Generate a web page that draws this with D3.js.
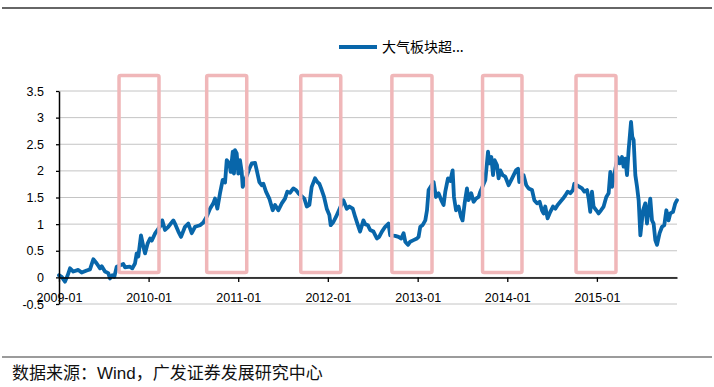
<!doctype html>
<html>
<head>
  <meta charset="utf-8" />
  <title>大气板块超额收益</title>
  <script src="https://d3js.org/d3.v7.min.js"></script>
  <style>
    html, body { margin: 0; padding: 0; background: #fff; }
    svg { display: block; }
    .tick text { font-family: "Liberation Sans", Arial, sans-serif; font-size: 12.5px; fill: #000; }
  </style>
</head>
<body>
  <svg id="chart"></svg>

  <script>
    // decimal years
    var years = [
      2009.000, 2009.030, 2009.067, 2009.097, 2009.123, 2009.160, 2009.215, 2009.253, 2009.309, 2009.346,
      2009.383, 2009.421, 2009.458, 2009.477, 2009.513, 2009.550, 2009.569, 2009.595, 2009.617, 2009.644,
      2009.718, 2009.737, 2009.792, 2009.818, 2009.848, 2009.867, 2009.885, 2009.915, 2009.941, 2009.960,
      2009.990, 2010.016, 2010.035, 2010.071, 2010.138, 2010.153, 2010.183, 2010.220, 2010.276, 2010.302,
      2010.332, 2010.362, 2010.406, 2010.443, 2010.481, 2010.518, 2010.574, 2010.611, 2010.648, 2010.685,
      2010.722, 2010.741, 2010.767, 2010.797, 2010.827, 2010.853, 2010.872, 2010.901, 2010.916, 2010.939,
      2010.953, 2010.964, 2010.983, 2011.001, 2011.020, 2011.039, 2011.050, 2011.124, 2011.151, 2011.188,
      2011.207, 2011.236, 2011.262, 2011.280, 2011.310, 2011.347, 2011.385, 2011.411, 2011.448, 2011.486,
      2011.522, 2011.548, 2011.578, 2011.615, 2011.645, 2011.671, 2011.738, 2011.765, 2011.794, 2011.820,
      2011.857, 2011.883, 2011.905, 2011.932, 2011.958, 2011.988, 2012.017, 2012.032, 2012.062, 2012.092,
      2012.173, 2012.211, 2012.240, 2012.278, 2012.304, 2012.329, 2012.359, 2012.396, 2012.415, 2012.445,
      2012.471, 2012.508, 2012.546, 2012.571, 2012.602, 2012.638, 2012.675, 2012.694, 2012.750, 2012.787,
      2012.817, 2012.843, 2012.862, 2012.892, 2012.917, 2012.954, 2012.992, 2013.010, 2013.029, 2013.055,
      2013.085, 2013.104, 2013.122, 2013.178, 2013.204, 2013.233, 2013.263, 2013.289, 2013.308, 2013.338,
      2013.364, 2013.390, 2013.405, 2013.428, 2013.457, 2013.483, 2013.501, 2013.524, 2013.550, 2013.568,
      2013.598, 2013.624, 2013.651, 2013.680, 2013.699, 2013.755, 2013.785, 2013.799, 2013.822, 2013.841,
      2013.858, 2013.885, 2013.903, 2013.922, 2013.948, 2013.978, 2014.015, 2014.045, 2014.071, 2014.097,
      2014.120, 2014.134, 2014.182, 2014.212, 2014.238, 2014.276, 2014.302, 2014.332, 2014.361, 2014.387,
      2014.405, 2014.424, 2014.450, 2014.480, 2014.510, 2014.536, 2014.562, 2014.592, 2014.622, 2014.648,
      2014.673, 2014.703, 2014.733, 2014.748, 2014.807, 2014.834, 2014.860, 2014.890, 2014.908, 2014.926,
      2014.945, 2014.963, 2014.994, 2015.019, 2015.046, 2015.075, 2015.105, 2015.131, 2015.150, 2015.169,
      2015.231, 2015.254, 2015.280, 2015.298, 2015.317, 2015.336, 2015.354, 2015.381, 2015.395, 2015.410,
      2015.429, 2015.448, 2015.466, 2015.485, 2015.515, 2015.540, 2015.559, 2015.577, 2015.596, 2015.615,
      2015.633, 2015.652, 2015.671, 2015.700, 2015.727, 2015.752, 2015.775, 2015.800, 2015.819, 2015.849,
      2015.875, 2015.894
    ];

    var values = [
      0.04, 0.01, -0.08, 0.04, 0.17, 0.11, 0.14, 0.09, 0.13, 0.15,
      0.34, 0.26, 0.17, 0.21, 0.11, 0.08, -0.02, 0.04, 0.01, 0.20,
      0.25, 0.19, 0.20, 0.17, 0.26, 0.45, 0.39, 0.79, 0.58, 0.45,
      0.64, 0.73, 0.69, 0.82, 0.98, 1.07, 0.89, 0.95, 1.07, 0.98,
      0.86, 0.76, 0.95, 1.01, 0.83, 0.95, 0.98, 1.03, 1.14, 1.29,
      1.39, 1.48, 1.29, 1.58, 1.83, 1.78, 2.20, 2.14, 1.98, 2.36,
      1.95, 2.39, 2.33, 1.95, 2.20, 1.98, 1.70, 2.04, 2.14, 2.15,
      2.01, 1.79, 1.73, 1.76, 1.61, 1.48, 1.26, 1.36, 1.26, 1.39,
      1.48, 1.61, 1.59, 1.67, 1.64, 1.58, 1.48, 1.33, 1.36, 1.70,
      1.86, 1.79, 1.76, 1.64, 1.51, 1.29, 1.17, 0.98, 1.04, 1.14,
      1.45, 1.29, 1.33, 1.29, 1.14, 1.01, 0.86, 1.07, 1.00, 0.98,
      0.89, 0.86, 0.73, 0.76, 0.86, 0.95, 1.01, 0.79, 0.78, 0.76,
      0.73, 0.83, 0.67, 0.61, 0.67, 0.70, 0.73, 0.76, 0.95, 0.98,
      1.07, 1.26, 1.64, 1.79, 1.51, 1.58, 1.45, 1.36, 1.61, 1.86,
      1.81, 2.01, 1.51, 1.26, 1.33, 1.14, 1.07, 1.39, 1.67, 1.45,
      1.58, 1.42, 1.48, 1.51, 1.61, 1.83, 2.36, 2.14, 2.26, 1.92,
      2.20, 2.11, 1.86, 2.01, 1.92, 1.89, 1.73, 1.83, 1.92, 2.01,
      2.04, 1.79, 1.92, 1.73, 1.67, 1.64, 1.45, 1.39, 1.42, 1.26,
      1.20, 1.33, 1.11, 1.23, 1.33, 1.29, 1.36, 1.42, 1.48, 1.54,
      1.61, 1.58, 1.64, 1.76, 1.70, 1.67, 1.61, 1.64, 1.48, 1.23,
      1.61, 1.33, 1.26, 1.20, 1.26, 1.33, 1.51, 1.58, 1.98, 1.70,
      2.26, 2.14, 2.26, 2.08, 2.23, 1.92, 2.39, 2.92, 2.64, 2.58,
      1.92, 1.70, 1.45, 0.79, 1.26, 1.39, 1.01, 1.26, 1.48, 1.07,
      1.01, 0.70, 0.61, 0.83, 0.95, 0.98, 1.26, 1.07, 1.20, 1.23,
      1.39, 1.45
    ];

    // highlighted windows (start, end in decimal years)
    var windowStarts = [2009.670, 2010.648, 2011.698, 2012.713, 2013.724, 2014.767];
    var windowEnds = [2010.116, 2011.095, 2012.144, 2013.160, 2014.164, 2015.213];
    var windowTop = 3.79, windowBottom = 0.09;

    var yTicks = [-0.5, 0, 0.5, 1, 1.5, 2, 2.5, 3, 3.5];
    var seriesName = "大气板块超...";
    var sourceText = "数据来源：Wind，广发证券发展研究中心";

    var width = 714, height = 387;
    var margin = { left: 59, right: 37, top: 91, bottom: 83 };

    function toDate(t) {
      var y = Math.floor(t),
        s = new Date(y, 0, 1),
        e = new Date(y + 1, 0, 1);
      return new Date(+s + (t - y) * (e - s));
    }

    var data = years.map(function(t, i) {
      return { date: toDate(t), value: values[i] };
    });

    var svg = d3.select("#chart").attr("width", width).attr("height", height);

    var x = d3.scaleTime()
      .domain([toDate(2009.0), toDate(2015.894)])
      .range([margin.left, width - margin.right]);

    var y = d3.scaleLinear()
      .domain([-0.5, 3.5])
      .range([height - margin.bottom, margin.top]);

    // top and bottom rules of the report page
    svg.append("line")
      .attr("x1", 2).attr("x2", 712).attr("y1", 8).attr("y2", 8)
      .style("stroke", "#333").style("stroke-width", 1.6);

    svg.append("line")
      .attr("x1", 2).attr("x2", 712).attr("y1", 357).attr("y2", 357)
      .style("stroke", "#7a7a7a").style("stroke-width", 1.6);

    svg.append("text")
      .attr("x", 12).attr("y", 379)
      .style("font-family", "'Liberation Sans', 'Noto Sans CJK SC', sans-serif")
      .style("font-size", "17px")
      .style("fill", "#111")
      .text(sourceText);

    // gridlines
    svg.append("g")
      .selectAll("line")
      .data(yTicks)
      .enter()
      .append("line")
      .attr("x1", margin.left)
      .attr("x2", width - margin.right)
      .attr("y1", function(d) { return y(d); })
      .attr("y2", function(d) { return y(d); })
      .style("stroke", "#c4c4c4")
      .style("stroke-width", 1);

    // series
    var line = d3.line()
      .x(function(d) { return x(d.date); })
      .y(function(d) { return y(d.value); });

    svg.append("path")
      .datum(data)
      .attr("d", line)
      .style("fill", "none")
      .style("stroke", "#0866aa")
      .style("stroke-width", 3.8)
      .style("stroke-linejoin", "round")
      .style("stroke-linecap", "round");

    // highlight boxes
    svg.append("g")
      .selectAll("rect")
      .data(windowStarts)
      .enter()
      .append("rect")
      .attr("x", function(d) { return x(toDate(d)); })
      .attr("width", function(d, i) { return x(toDate(windowEnds[i])) - x(toDate(d)); })
      .attr("y", y(windowTop))
      .attr("height", y(windowBottom) - y(windowTop))
      .attr("rx", 1.5)
      .style("fill", "none")
      .style("stroke", "#f0b7b9")
      .style("stroke-width", 3.5);

    // axes
    var xAxis = d3.axisBottom(x)
      .ticks(d3.timeYear.every(1))
      .tickFormat(d3.timeFormat("%Y-%m"))
      .tickSize(4.5)
      .tickSizeOuter(0)
      .tickPadding(11);

    var gx = svg.append("g")
      .attr("transform", "translate(0," + y(0) + ")")
      .call(xAxis);
    gx.select(".domain").style("stroke", "#000").style("stroke-width", 1.5);
    gx.selectAll(".tick line").style("stroke", "#000").style("stroke-width", 1.3);

    var yAxis = d3.axisLeft(y)
      .tickValues(yTicks)
      .tickFormat(function(d) { return d; })
      .tickSize(3)
      .tickSizeOuter(0)
      .tickPadding(12);

    var gy = svg.append("g")
      .attr("transform", "translate(" + margin.left + ",0)")
      .call(yAxis);
    gy.select(".domain").style("stroke", "#000").style("stroke-width", 1.5);
    gy.selectAll(".tick line").style("stroke", "#000").style("stroke-width", 1.3);

    // legend
    svg.append("line")
      .attr("x1", 339).attr("x2", 377).attr("y1", 47).attr("y2", 47)
      .style("stroke", "#0866aa").style("stroke-width", 4);

    svg.append("text")
      .attr("x", 382).attr("y", 52)
      .style("font-family", "'Noto Sans CJK SC', sans-serif")
      .style("font-size", "14px")
      .style("fill", "#000")
      .text(seriesName);
  </script>
</body>
</html>
